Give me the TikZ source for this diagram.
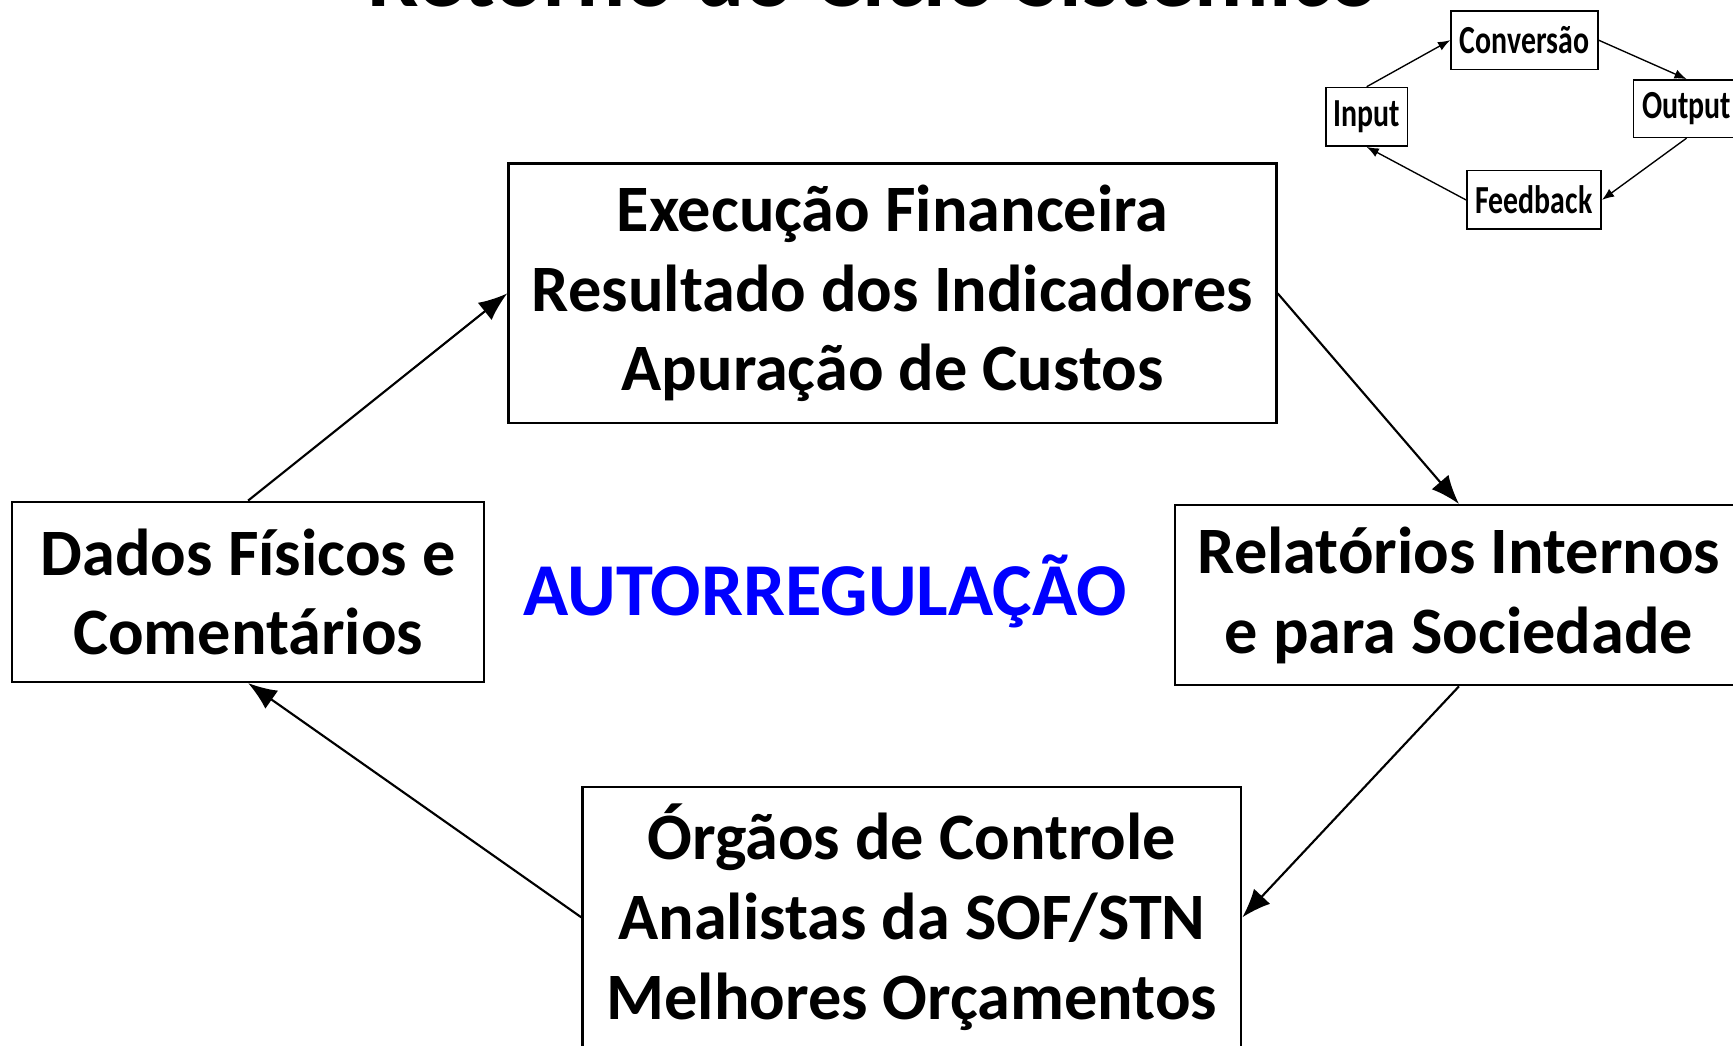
\documentclass[tikz,border=0pt]{standalone}
\usepackage{fontspec}
\setmainfont{Carlito}
\newfontfamily\estreita{Carlito}[FakeStretch=0.75]
\usetikzlibrary{arrows.meta}

\definecolor{azulauto}{RGB}{0,0,255}
\newcommand{\fonteCaixa}{\bfseries\fontsize{17.07}{20.5}\selectfont}
\newcommand{\fonteMini}{\estreita\bfseries\fontsize{10.24}{12}\selectfont}
\tikzset{
    caixa/.style={draw, line width=0.6pt, align=center, inner sep=0pt, font=\fonteCaixa},
    mini/.style={draw, line width=0.4pt, inner sep=0pt, font=\fonteMini},
    seta/.style={line width=0.55pt, -{Latex[length=0.26cm,width=0.2cm]}},
    setinha/.style={line width=0.35pt, -{Latex[length=0.11cm,width=0.085cm]}}
}

\begin{document}
\begin{tikzpicture}
        \clip (0,0) rectangle (15.68,9.464);
        % titulo (cortado em cima)
        \node[anchor=base, font=\bfseries\fontsize{23.6}{28}\selectfont] (titulo) at (7.9,9.404) {Retorno do Ciclo Sistêmico};
        % ciclo principal
        \node[caixa, minimum width=6.95cm, minimum height=2.35cm] (exec) at (8.075,6.809)
            {Execução Financeira\\Resultado dos Indicadores\\Apuração de Custos};
        \node[caixa, minimum width=4.27cm, minimum height=1.63cm] (dados) at (2.245,4.109)
            {Dados Físicos e\\Comentários};
        \node[caixa, minimum width=5.14cm, minimum height=1.63cm] (relat) at (13.2,4.079)
            {Relatórios Internos\\e para Sociedade};
        \node[caixa, minimum width=5.96cm, minimum height=2.36cm] (orgaos) at (8.25,1.164)
            {Órgãos de Controle\\Analistas da SOF/STN\\Melhores Orçamentos};
        \node[anchor=base, text=azulauto, font=\bfseries\fontsize{19.2}{23}\selectfont] (auto) at (7.465,3.894) {AUTORREGULAÇÃO};
        \foreach \de/\para in {dados.north/exec.west, exec.east/relat.north, relat.south/orgaos.east, orgaos.west/dados.south}
        \draw[seta] (\de) -- (\para);
        % ciclo pequeno
        \node[mini, minimum width=1.33cm, minimum height=0.527cm] (conv) at (13.793,9.100) {Conversão};
        \node[mini, minimum width=0.74cm, minimum height=0.53cm] (input) at (12.365,8.407) {Input};
        \node[mini, minimum width=0.96cm, minimum height=0.52cm] (output) at (15.26,8.481) {Output};
        \node[mini, minimum width=1.216cm, minimum height=0.53cm] (feedback) at (13.879,7.655) {Feedback};
        \foreach \de/\para in {input.north/conv.west, conv.east/output.north, output.south/feedback.east, feedback.west/input.south}
        \draw[setinha] (\de) -- (\para);
    \end{tikzpicture}
\end{document}
